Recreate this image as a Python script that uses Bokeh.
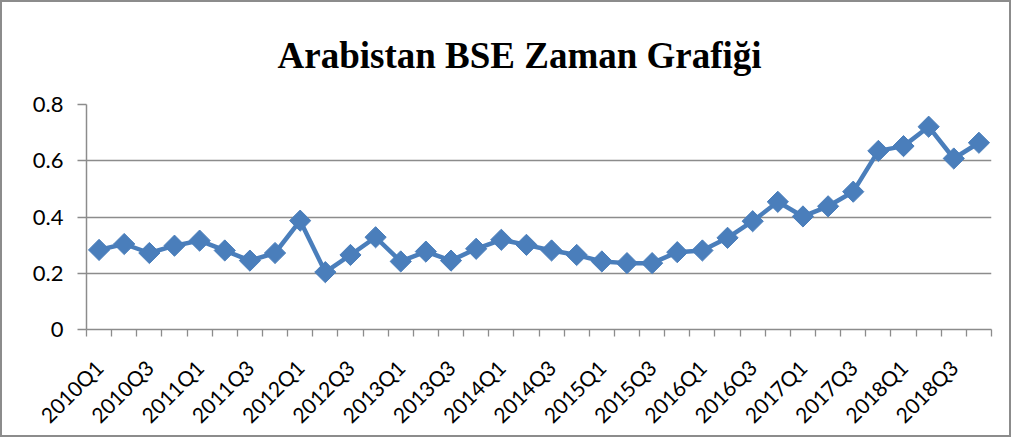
import math
from bokeh.plotting import figure
from bokeh.models import FixedTicker, CustomJSTickFormatter, Range1d, ColumnDataSource
from bokeh.embed import file_html
from bokeh.resources import INLINE

quarters = ["2010Q1", "2010Q2", "2010Q3", "2010Q4", "2011Q1", "2011Q2", "2011Q3", "2011Q4",
            "2012Q1", "2012Q2", "2012Q3", "2012Q4", "2013Q1", "2013Q2", "2013Q3", "2013Q4",
            "2014Q1", "2014Q2", "2014Q3", "2014Q4", "2015Q1", "2015Q2", "2015Q3", "2015Q4",
            "2016Q1", "2016Q2", "2016Q3", "2016Q4", "2017Q1", "2017Q2", "2017Q3", "2017Q4",
            "2018Q1", "2018Q2", "2018Q3", "2018Q4"]
bse = [0.283, 0.304, 0.272, 0.298, 0.316, 0.281, 0.245, 0.272,
       0.387, 0.204, 0.265, 0.328, 0.242, 0.277, 0.245, 0.287,
       0.319, 0.301, 0.281, 0.265, 0.242, 0.236, 0.236, 0.275,
       0.281, 0.326, 0.385, 0.454, 0.402, 0.438, 0.490, 0.635,
       0.652, 0.721, 0.608, 0.664]
y_ticks = [0, 0.2, 0.4, 0.6, 0.8]

xs = [i + 0.5 for i in range(len(quarters))]
src = ColumnDataSource(dict(x=xs, y=bse, q=quarters))

BLUE = "#4a7ebb"
GRID = "#8c8c8c"

p = figure(width=1011, height=437, output_backend="svg", toolbar_location=None,
           x_range=Range1d(0, len(quarters)), y_range=Range1d(0, 0.8),
           min_border_left=84, min_border_right=22, min_border_top=102, min_border_bottom=109,
           title="Arabistan  BSE Zaman  Grafiği")
p.styles = {"border": "2px solid #8c8c8c"}
p.title.align = "left"
p.title.offset = 191
p.title.text_font = "Liberation Serif"
p.title.text_font_style = "bold"
p.title.text_font_size = "37px"
p.title.text_color = "black"
p.title.standoff = 58

p.outline_line_color = None
p.xgrid.grid_line_color = None
p.ygrid.grid_line_color = GRID
p.ygrid.grid_line_width = 1.3
p.ygrid.ticker = FixedTicker(ticks=y_ticks)

# x axis
label_ticks = [xs[i] for i in range(0, len(quarters), 2)]
p.xaxis.ticker = FixedTicker(ticks=label_ticks, minor_ticks=list(range(len(quarters) + 1)))
p.xaxis.major_label_overrides = {xs[i]: quarters[i] for i in range(0, len(quarters), 2)}
p.xaxis.major_label_orientation = math.pi / 4
p.xaxis.major_tick_out = 0
p.xaxis.major_tick_in = 0
p.xaxis.minor_tick_out = 7
p.xaxis.minor_tick_in = 0
p.xaxis.minor_tick_line_color = GRID
p.xaxis.minor_tick_line_width = 1.3
p.xaxis.axis_line_color = GRID
p.xaxis.axis_line_width = 1.5
p.xaxis.major_label_text_font = "Lato"
p.xaxis.major_label_text_font_size = "21px"
p.xaxis.major_label_text_color = "black"
p.xaxis.major_label_standoff = 27

# y axis
p.yaxis.ticker = FixedTicker(ticks=y_ticks)
p.yaxis.formatter = CustomJSTickFormatter(code="return tick == 0 ? '0' : tick.toFixed(1);")
p.yaxis.major_tick_out = 9
p.yaxis.major_tick_in = 0
p.yaxis.minor_tick_line_color = None
p.yaxis.major_tick_line_color = GRID
p.yaxis.major_tick_line_width = 1.3
p.yaxis.axis_line_color = GRID
p.yaxis.axis_line_width = 1.5
p.yaxis.major_label_text_font = "Lato"
p.yaxis.major_label_text_font_size = "22px"
p.yaxis.major_label_text_color = "black"
p.yaxis.major_label_standoff = 14

p.line("x", "y", source=src, line_color=BLUE, line_width=4.5)
p.scatter("x", "y", source=src, marker="square", size=15, angle=math.pi / 4,
          fill_color=BLUE, line_color=BLUE)

open("out.html", "w").write(file_html(p, INLINE))
